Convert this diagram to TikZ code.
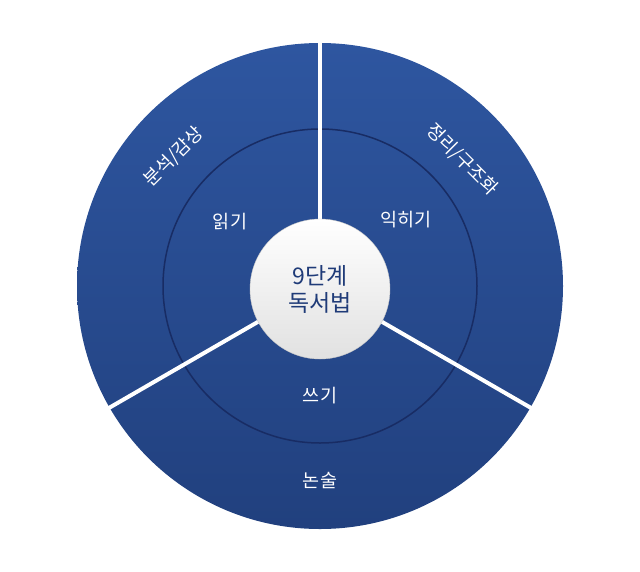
\documentclass[tikz,border=0pt]{standalone}
\usepackage{fontspec}
\setmainfont{Noto Sans CJK KR}
\definecolor{topb}{RGB}{46,86,160}
\definecolor{botb}{RGB}{33,64,126}
\definecolor{ring}{RGB}{24,44,100}
\definecolor{ctxt}{RGB}{31,59,120}
\definecolor{cgray}{RGB}{225,225,225}
\definecolor{cedge}{RGB}{200,200,200}
\begin{document}
\begin{tikzpicture}[x=1pt,y=-1pt,
  lbl/.style={text=white,font=\fontsize{18.5}{22}\selectfont},
  sep/.style={white,line width=4pt}]
\useasboundingbox (0,0) rectangle (640,571);
\coordinate (c) at (320,286);
\shade[top color=topb,bottom color=botb] (c) circle[radius=243];
\draw[ring,line width=1.5pt] (c) circle[radius=157];
\draw[sep] (c) -- ++(0,-245);
\draw[sep] (c) -- ++(-212,122.5);
\draw[sep] (c) -- ++(212,122.5);
\shade[top color=white,bottom color=cgray,draw=cedge] (320,289) circle[radius=70];
\node[align=center,text=ctxt,font=\fontsize{23}{27}\selectfont] (ctr) at (320,289) {9단계\\독서법};
\node[lbl,rotate=45] (a) at (174,157) {분석/감상};
\node[lbl,rotate=-45] (b) at (462,160) {정리/구조화};
\node[lbl] (r) at (230,222) {읽기};
\node[lbl] (i) at (406,220) {익히기};
\node[lbl] (w) at (320,396) {쓰기};
\node[lbl] (n) at (320,481) {논술};
\end{tikzpicture}
\end{document}
